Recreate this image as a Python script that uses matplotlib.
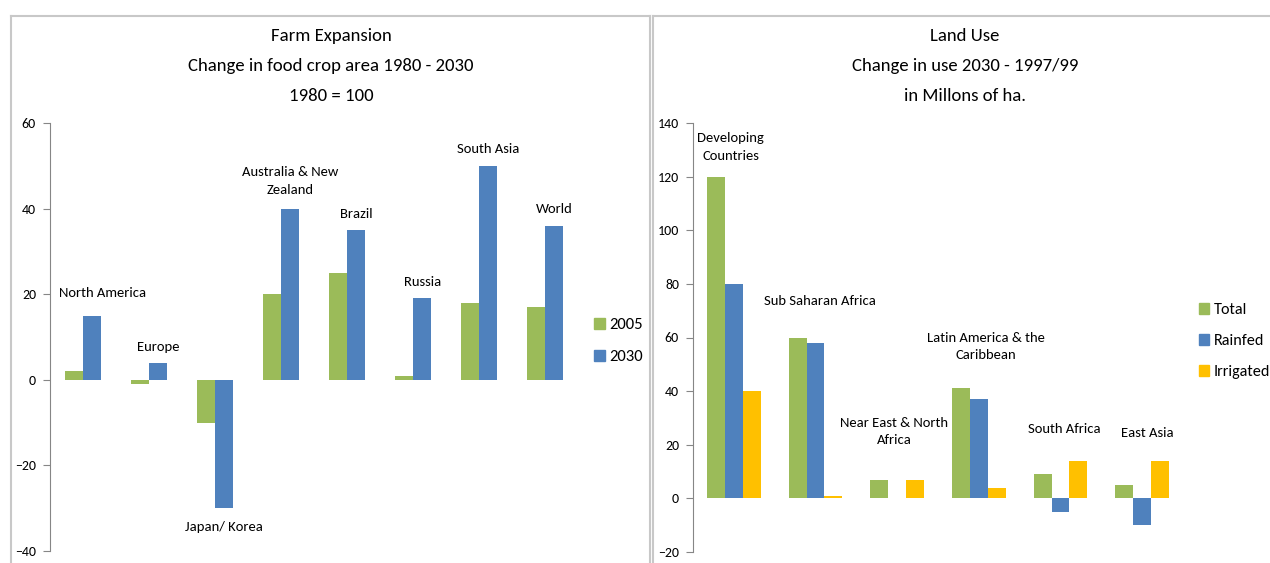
import matplotlib
matplotlib.use("Agg")
import matplotlib.pyplot as plt
import numpy as np
from matplotlib.patches import Patch
from matplotlib.lines import Line2D

plt.rcParams['font.family'] = ['Carlito', 'Lato', 'DejaVu Sans']

# left chart: farm expansion
farm_regions = ["North America", "Europe", "Japan/ Korea", "Australia & New\nZealand",
                "Brazil", "Russia", "South Asia", "World"]
farm_2005 = [2, -1, -10, 20, 25, 1, 18, 17]
farm_2030 = [15, 4, -30, 40, 35, 19, 50, 36]
farm_label_y = [20.3, 7.7, -34.3, 46.4, 38.8, 22.9, 54, 40]
farm_label_dx = [0.30, 0.14, 0.14, 0.14, 0.14, 0.14, 0.14, 0.14]

# right chart: land use
land_regions = ["Developing\nCountries", "Sub Saharan Africa", "Near East & North\nAfrica",
                "Latin America & the\nCaribbean", "South Africa", "East Asia"]
land_total = [120, 60, 7, 41, 9, 5]
land_rainfed = [80, 58, 0, 37, -5, -10]
land_irrigated = [40, 1, 7, 4, 14, 14]
land_label_y = [131, 73.7, 25, 56.6, 25.7, 24.2]
land_label_dx = [-0.04, 0.05, -0.04, 0.09, 0.05, 0.06]

GREEN = "#9BBB59"
BLUE = "#4F81BD"
YELLOW = "#FFC000"
GRID = "#868686"

W, H = 1270, 563
fig = plt.figure(figsize=(W / 100, H / 100), dpi=100)


def fx(px):
    return px / W


def fy(py):
    return 1 - py / H


def style_axis(ax):
    for s in ["top", "right", "bottom"]:
        ax.spines[s].set_visible(False)
    ax.spines["left"].set_color(GRID)
    ax.spines["left"].set_linewidth(0.8)
    ax.set_xticks([])
    ax.tick_params(axis="y", direction="out", length=5, width=0.8, color=GRID,
                   labelsize=10, pad=5)


# panel borders
for x0, x1 in [(11, 650), (653, 1275)]:
    fig.add_artist(Line2D([fx(x0), fx(x0)], [fy(16), -0.1], color="#c8c8c8", lw=1.5))
    fig.add_artist(Line2D([fx(x0), fx(x1)], [fy(16), fy(16)], color="#c8c8c8", lw=1.5))
    fig.add_artist(Line2D([fx(x1), fx(x1)], [fy(16), -0.1], color="#c8c8c8", lw=1.5))

# ---- left
ax1 = fig.add_axes([fx(50), fy(551), fx(528), 428 / H])
x = np.arange(len(farm_regions))
bw = 0.28
ax1.bar(x - bw / 2, farm_2005, bw, color=GREEN)
ax1.bar(x + bw / 2, farm_2030, bw, color=BLUE)
ax1.set_xlim(-0.5, len(farm_regions) - 0.5)
ax1.set_ylim(-40, 60)
ax1.set_yticks(range(-40, 61, 20))
style_axis(ax1)
for i, name in enumerate(farm_regions):
    ax1.text(x[i] + farm_label_dx[i], farm_label_y[i], name, ha="center", va="center",
             fontsize=10.5, linespacing=1.55)

for i, line in enumerate(["Farm Expansion", "Change in food crop area 1980 - 2030", "1980 = 100"]):
    fig.text(fx(331), fy(36 + 30 * i), line, ha="center", va="center", fontsize=13.5)

legend_kw = dict(loc="center left", frameon=False, handlelength=0.65,
                 handleheight=0.65, handletextpad=0.25, labelspacing=1.05,
                 borderaxespad=0, borderpad=0)
fig.legend(handles=[Patch(color=GREEN, label="2005"), Patch(color=BLUE, label="2030")],
           bbox_to_anchor=(fx(594), fy(341)), fontsize=12, **legend_kw)

# ---- right
ax2 = fig.add_axes([fx(693), fy(552), fx(490), 429 / H])
x2 = np.arange(len(land_regions))
bw2 = 0.22
ax2.bar(x2 - bw2, land_total, bw2, color=GREEN)
ax2.bar(x2, land_rainfed, bw2, color=BLUE)
ax2.bar(x2 + bw2, land_irrigated, bw2, color=YELLOW)
ax2.set_xlim(-0.5, len(land_regions) - 0.5)
ax2.set_ylim(-20, 140)
ax2.set_yticks(range(-20, 141, 20))
style_axis(ax2)
for i, name in enumerate(land_regions):
    ax2.text(x2[i] + land_label_dx[i], land_label_y[i], name, ha="center", va="center",
             fontsize=10.5, linespacing=1.55)

for i, line in enumerate(["Land Use", "Change in use 2030 - 1997/99", "in Millons of ha."]):
    fig.text(fx(965), fy(36 + 30 * i), line, ha="center", va="center", fontsize=13.5)

fig.legend(handles=[Patch(color=GREEN, label="Total"), Patch(color=BLUE, label="Rainfed"),
                    Patch(color=YELLOW, label="Irrigated")],
           bbox_to_anchor=(fx(1199), fy(341)), fontsize=11.6, **legend_kw)

fig.savefig("out.png", dpi=100, facecolor="white")
